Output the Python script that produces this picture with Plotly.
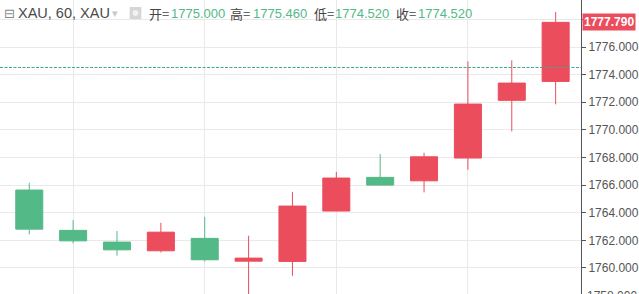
import plotly.graph_objects as go

# ---- data ----
idx = list(range(13))
opens  = [1765.64, 1762.72, 1761.87, 1761.24, 1762.14, 1760.49, 1760.47, 1764.12, 1766.56, 1766.31, 1767.96, 1772.14, 1773.51]
highs  = [1766.17, 1763.46, 1762.67, 1763.27, 1763.70, 1762.33, 1765.51, 1766.96, 1768.25, 1768.34, 1774.96, 1775.04, 1778.54]
lows   = [1762.43, 1761.78, 1760.88, 1761.12, 1760.47, 1757.80, 1759.43, 1764.10, 1766.00, 1765.47, 1767.11, 1769.89, 1771.85]
closes = [1762.81, 1761.96, 1761.31, 1762.59, 1760.59, 1760.71, 1764.48, 1766.51, 1766.00, 1768.05, 1771.87, 1773.39, 1777.79]

y_ticks = [1758, 1760, 1762, 1764, 1766, 1768, 1770, 1772, 1774, 1776, 1778]
x_grid = [1, 4, 7, 10]
last_price = 1777.79
ref_line = 1774.52
header_items = [("开=", "1775.000"), ("高=", "1775.460"), ("低=", "1774.520"), ("收=", "1774.520")]

RED = "#eb4d5c"
GREEN = "#53b987"

W, H = 639, 294
R_MARGIN = 43
PW = W - R_MARGIN
Y_RANGE = [1758.11, 1779.41]

fig = go.Figure()
fig.add_trace(go.Candlestick(
    x=idx, open=opens, high=highs, low=lows, close=closes,
    increasing=dict(line=dict(color=RED, width=1), fillcolor=RED),
    decreasing=dict(line=dict(color=GREEN, width=1), fillcolor=GREEN),
    whiskerwidth=0, showlegend=False, hoverinfo="skip",
))

# reference dashed line
fig.add_shape(type="line", xref="paper", yref="y", x0=0, x1=1, y0=ref_line, y1=ref_line,
              line=dict(color="#3fa896", width=1, dash="3px,1.5px"), layer="above")

annotations = []
# last price tag
annotations.append(dict(xref="paper", yref="y", x=1, y=last_price, xanchor="left", yanchor="middle",
                        text="<b>%.3f</b>" % last_price, showarrow=False,
                        font=dict(color="white", size=12, family="Arial, Liberation Sans"),
                        bgcolor=RED, borderpad=1, xshift=1))
# partially visible bottom tick label
yb = (y_ticks[0] - Y_RANGE[0]) / (Y_RANGE[1] - Y_RANGE[0])
annotations.append(dict(xref="paper", yref="paper", x=1, y=yb, xanchor="left", yanchor="middle",
                        text="%.3f" % y_ticks[0], showarrow=False, xshift=4,
                        font=dict(color="#555", size=12, family="Arial, Liberation Sans")))

hy = 1 - 13 / H
def px(x):
    return x / PW

annotations.append(dict(xref="paper", yref="paper", x=px(2), y=hy, xanchor="left", yanchor="middle",
                        text="⊟", showarrow=False, font=dict(color="#888", size=13, family="DejaVu Sans")))
annotations.append(dict(xref="paper", yref="paper", x=px(16), y=hy, xanchor="left", yanchor="middle",
                        text="XAU, 60, XAU", showarrow=False,
                        font=dict(color="#4a4a4a", size=14.5, family="Arial, Liberation Sans")))
annotations.append(dict(xref="paper", yref="paper", x=px(113), y=hy, xanchor="left", yanchor="middle",
                        text="▾", showarrow=False, font=dict(color="#c8c8c8", size=11, family="DejaVu Sans")))
label_x = [151, 234, 320, 404]
value_x = [173, 257, 342, 427]
for (lab, val), lx, vx in zip(header_items, label_x, value_x):
    annotations.append(dict(xref="paper", yref="paper", x=px(lx), y=hy, xanchor="left", yanchor="middle",
                            text=lab, showarrow=False,
                            font=dict(color="#444", size=13, family="Noto Sans CJK SC")))
    annotations.append(dict(xref="paper", yref="paper", x=px(vx), y=hy, xanchor="left", yanchor="middle",
                            text=val, showarrow=False,
                            font=dict(color=GREEN, size=13, family="Arial, Liberation Sans")))

# camera icon
fig.add_shape(type="rect", xref="paper", yref="paper", x0=px(133), x1=px(145),
              y0=1 - 19 / H, y1=1 - 7 / H, fillcolor="#d6d6d6", line=dict(width=0), layer="above")
fig.add_shape(type="circle", xref="paper", yref="paper", x0=px(136), x1=px(142),
              y0=1 - 16 / H, y1=1 - 10 / H, fillcolor="#f2f2f2", line=dict(width=0), layer="above")

tick_text = ["%.3f" % v if v != 1778 else "" for v in y_ticks]

fig.update_layout(
    width=W, height=H,
    margin=dict(l=0, r=R_MARGIN, t=0, b=0),
    paper_bgcolor="white", plot_bgcolor="white",
    boxgap=0.12, boxgroupgap=0.3,
    annotations=annotations,
    xaxis=dict(range=[-0.667, 12.578], tickvals=x_grid, showticklabels=False, showgrid=True,
               gridcolor="#e9e9e9", gridwidth=1, zeroline=False, rangeslider=dict(visible=False),
               fixedrange=True, ticks=""),
    yaxis=dict(range=Y_RANGE, side="right", tickvals=y_ticks, ticktext=tick_text,
               showgrid=True, gridcolor="#e9e9e9", gridwidth=1,
               showline=True, linecolor="#555", linewidth=1, ticks="outside", ticklen=4,
               tickcolor="#555", zeroline=False,
               tickfont=dict(color="#555", size=12, family="Arial, Liberation Sans"),
               fixedrange=True),
    hovermode=False,
)

fig.write_html("out.html", config=dict(displayModeBar=False))
